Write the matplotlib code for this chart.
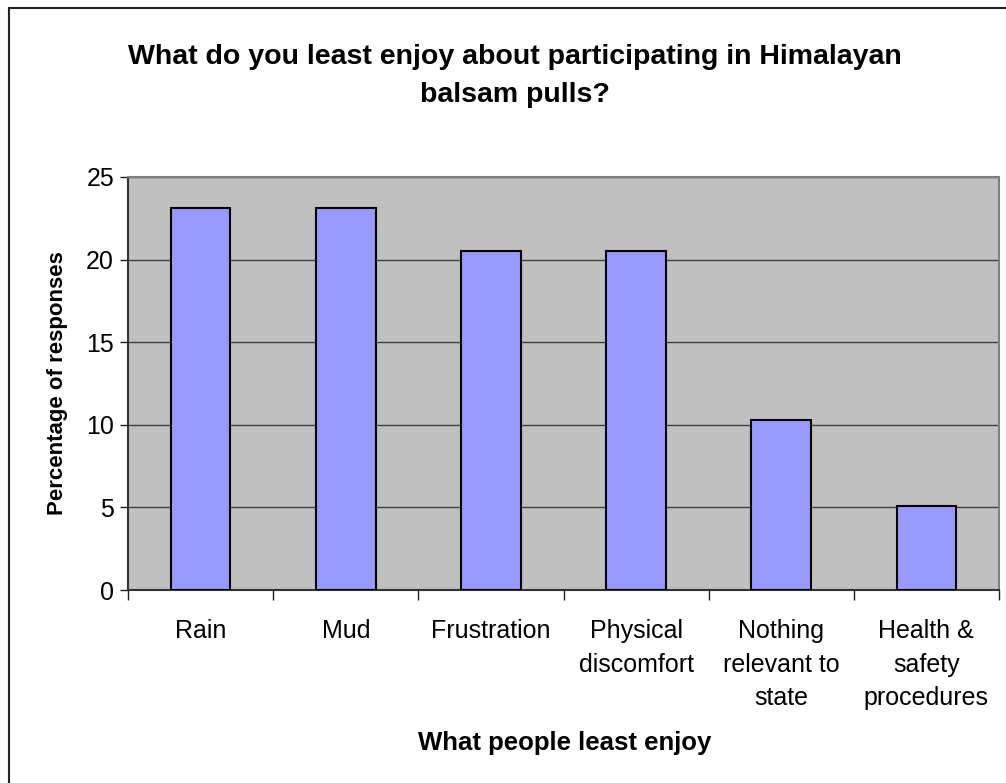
import matplotlib.pyplot as plt
from matplotlib.patches import Rectangle

plt.rcParams['font.family'] = ['Liberation Sans', 'DejaVu Sans']

categories = ["Rain", "Mud", "Frustration", "Physical\ndiscomfort",
              "Nothing\nrelevant to\nstate", "Health &\nsafety\nprocedures"]
percent = [23.1, 23.1, 20.5, 20.5, 10.3, 5.1]
y_ticks = [0, 5, 10, 15, 20, 25]

fig = plt.figure(figsize=(10.06, 7.83), dpi=100)
ax = fig.add_axes([128 / 1006, 1 - 590 / 783, 871 / 1006, 413 / 783])

# outer chart frame (only left/top visible in the picture)
fig.patches.append(Rectangle((9 / 1006, -0.05), 1.2, (1 - 8 / 783) + 0.05,
                             transform=fig.transFigure, fill=False,
                             edgecolor='#222222', linewidth=1.5))

ax.set_facecolor('#C0C0C0')
x = list(range(len(categories)))
ax.bar(x, percent, width=0.41, color='#9999FF', edgecolor='black',
       linewidth=1.5, zorder=3)

ax.set_xlim(-0.5, len(categories) - 0.5)
ax.set_ylim(0, 25)
ax.set_yticks(y_ticks)
ax.yaxis.grid(True, color='#404040', linewidth=1, zorder=1)
ax.set_axisbelow(True)

ax.set_xticks(x)
ax.set_xticklabels(categories, fontsize=18, linespacing=1.5, va='top')
ax.set_xticks([i - 0.5 for i in range(len(categories) + 1)], minor=True)
ax.tick_params(axis='x', which='major', length=0, pad=21)
ax.tick_params(axis='x', which='minor', length=7, width=1, color='#222222')
ax.tick_params(axis='y', labelsize=18, length=6, width=1, color='#222222', pad=4)

for s in ['left', 'bottom']:
    ax.spines[s].set_color('#333333')
    ax.spines[s].set_linewidth(1.5)
for s in ['top', 'right']:
    ax.spines[s].set_color('#808080')
    ax.spines[s].set_linewidth(1.5)

ax.set_ylabel("Percentage of responses", fontsize=16, fontweight='bold', labelpad=13)
fig.text(565 / 1006, 1 - 743 / 783, "What people least enjoy", fontsize=18.5,
         fontweight='bold', ha='center', va='center')
fig.text(515 / 1006, 1 - 76 / 783,
         "What do you least enjoy about participating in Himalayan\nbalsam pulls?",
         fontsize=20.5, fontweight='bold', ha='center', va='center', linespacing=1.55)

fig.savefig("out.png", dpi=100)
